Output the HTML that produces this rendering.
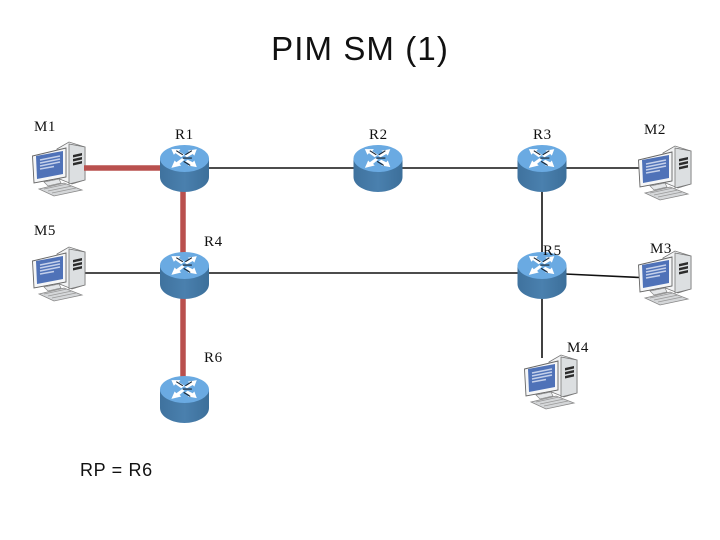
<!DOCTYPE html>
<html><head><meta charset="utf-8"><style>
html,body{margin:0;padding:0;background:#fff;width:720px;height:540px;overflow:hidden}
svg{display:block}
.t{font-family:"Liberation Serif",serif;font-size:15px;letter-spacing:.6px;fill:#111}
.s{font-family:"Liberation Sans",sans-serif;fill:#111}
</style></head><body>
<svg width="720" height="540" viewBox="0 0 720 540" xmlns="http://www.w3.org/2000/svg">
<defs>
<linearGradient id="bd" x1="0" x2="1" y1="0" y2="0"><stop offset="0" stop-color="#3f729e"/><stop offset=".5" stop-color="#4a80ae"/><stop offset="1" stop-color="#3c6f9a"/></linearGradient>
<g id="r">
<path d="M-24.500 15V34C-24.500 43 -12 49 0 49S24.500 43 24.500 34V15Z" fill="url(#bd)"/>
<ellipse cx="0" cy="15.500" rx="24.500" ry="13.500" fill="#6aaae2"/>
<g transform="translate(0 15.500) scale(.82) translate(0 -15.500)">
<g fill="#fff">
<path d="M-16 4L-5 4L-7 6.500L0 11L-4 14L-11 9L-13 11Z"/>
<path d="M15 4L4 6L7 8L0 12L3 14L10 10L12 12Z"/>
<path d="M-16 27L-12 18L-10 20L-3 15L0 17L-6 22L-4 24Z"/>
<path d="M15 26L4 24L6 22L1 19L4 17L10 20L12 18Z"/>
</g>
<path d="M-10 6L-2 11M9 6L1 11M-2 15H9M-1 19L7 24" stroke="#1a2430" stroke-width="1.300" fill="none"/>
</g>
</g>
<g id="p">
<path d="M25 7L37 0L53 5V38L40 42L25 36Z" fill="#f2f3f4" stroke="#777" stroke-width=".8"/>
<path d="M37 2V42L53 38V5Z" fill="#dcdfe1" stroke="#777" stroke-width=".8"/>
<path d="M41 13L50 11V13.500L41 15.500ZM41 17L50 15V17.500L41 19.500ZM41 21L50 19V21.500L41 23.500Z" fill="#2c2c2c"/>
<path d="M0.500 14L34 6V35L2 41Z" fill="#f5f6f7" stroke="#666" stroke-width=".9"/>
<path d="M4 14L31 9V32L5 37Z" fill="#4f72b8"/>
<path d="M8 18L28 14M8 21L28 17M8 24L28 20M8 27L22 24.500" stroke="#c4d0ea" stroke-width="1.500"/>
<path d="M12 40L27 37L29 41L16 44Z" fill="#e4e6e8" stroke="#888" stroke-width=".7"/>
<path d="M7 47L32 41L50 48L22 54Z" fill="#d5d7d9" stroke="#888" stroke-width=".8"/>
<path d="M12 47L35 42M16 49L40 44M20 51L44 46" stroke="#999" stroke-width=".8"/>
</g>
</defs>

<text class="s" x="360" y="60" font-size="33" letter-spacing="1.100" text-anchor="middle">PIM SM (1)</text>

<g stroke="#111" stroke-width="1.600" fill="none">
<path d="M205 168H640"/>
<path d="M78 273H520"/>
<path d="M565 274L640 277.500"/>
<path d="M542 190V252"/>
<path d="M542 295V358"/>
</g>

<use href="#p" x="32" y="142"/>
<use href="#p" x="32" y="247"/>
<use href="#p" x="638" y="146"/>
<use href="#p" x="638" y="251"/>
<use href="#p" x="524" y="355"/>

<g stroke="#b9504e" stroke-width="5.500" fill="none">
<path d="M84 168H163"/>
<path d="M183 190V254"/>
<path d="M183 295V378"/>
</g>

<use href="#r" x="184.500" y="143"/>
<use href="#r" x="378" y="143"/>
<use href="#r" x="542" y="143"/>
<use href="#r" x="184.500" y="250"/>
<use href="#r" x="542" y="250"/>
<use href="#r" x="184.500" y="374"/>

<text class="t" x="34" y="131">M1</text>
<text class="t" x="175" y="139">R1</text>
<text class="t" x="369" y="139">R2</text>
<text class="t" x="533" y="139">R3</text>
<text class="t" x="644" y="134">M2</text>
<text class="t" x="34" y="235">M5</text>
<text class="t" x="204" y="246">R4</text>
<text class="t" x="543" y="255">R5</text>
<text class="t" x="650" y="253">M3</text>
<text class="t" x="567" y="352">M4</text>
<text class="t" x="204" y="362">R6</text>
<text class="s" x="80" y="476" font-size="18" letter-spacing=".65">RP = R6</text>
</svg>
</body></html>
